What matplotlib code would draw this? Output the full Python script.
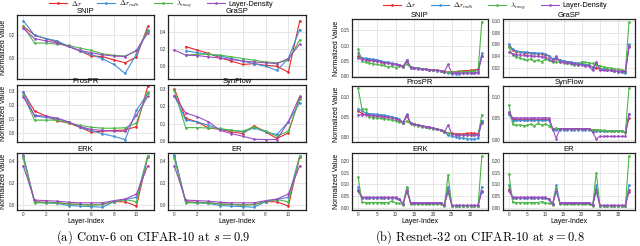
import numpy as np
import matplotlib
matplotlib.use("Agg")
import matplotlib.pyplot as plt
from matplotlib.lines import Line2D

plt.rcParams['font.family'] = ['Liberation Sans', 'DejaVu Sans']
plt.rcParams['mathtext.fontset'] = 'cm'

nan = np.nan
series_labels = [r'$\Delta r$', r'$\Delta r_{mdb}$', r'$\lambda_{mag}$', 'Layer-Density']
colors = ['#e8282b', '#3d8fd8', '#4cb848', '#9a4cc0']
methods = ['SNIP', 'GraSP', 'ProsPR', 'SynFlow', 'ERK', 'ER']

# ---------------- Conv-6 (12 layers) ----------------
conv_x = list(range(12))
conv = {
    'SNIP': [
        [0.28, 0.20, 0.17, 0.14, 0.10, 0.06, 0.015, 0.01, -0.02, -0.045, 0.005, 0.28],
        [0.33, 0.20, 0.17, 0.15, 0.10, 0.06, 0.03, -0.01, -0.06, -0.14, 0.03, 0.25],
        [0.28, 0.13, 0.13, 0.12, 0.11, 0.085, 0.065, 0.035, 0.02, 0.015, 0.06, 0.24],
        [0.26, 0.17, 0.15, 0.13, 0.10, 0.065, 0.045, 0.025, 0.015, 0.01, 0.065, 0.22],
    ],
    'GraSP': [
        [nan, 0.23, 0.19, 0.15, 0.10, 0.06, 0.02, 0.03, 0.01, 0.00, -0.07, 0.53],
        [nan, 0.18, 0.16, 0.14, 0.12, 0.09, 0.06, 0.03, 0.00, -0.05, 0.09, 0.43],
        [nan, 0.13, 0.14, 0.14, 0.13, 0.11, 0.09, 0.07, 0.05, 0.04, 0.07, 0.31],
        [0.19, 0.13, 0.125, 0.11, 0.095, 0.08, 0.06, 0.05, 0.04, 0.03, 0.09, 0.26],
    ],
    'ProsPR': [
        [0.29, 0.155, 0.12, 0.085, 0.07, 0.04, 0.005, 0.012, 0.017, 0.02, 0.045, 0.33],
        [0.29, 0.12, 0.11, 0.10, 0.077, 0.04, 0.017, -0.007, -0.025, -0.048, 0.16, 0.28],
        [0.27, 0.09, 0.09, 0.09, 0.072, 0.053, 0.04, 0.033, 0.033, 0.036, 0.07, 0.29],
        [0.255, 0.125, 0.118, 0.105, 0.077, 0.045, 0.024, 0.017, 0.012, 0.01, 0.125, 0.26],
    ],
    'SynFlow': [
        [0.30, 0.13, 0.11, 0.075, 0.068, 0.053, 0.043, 0.087, 0.053, 0.015, 0.047, 0.25],
        [0.26, 0.12, 0.11, 0.09, 0.068, 0.062, 0.053, 0.075, 0.053, 0.038, 0.11, 0.22],
        [0.29, 0.077, 0.077, 0.075, 0.072, 0.062, 0.057, 0.081, 0.058, 0.028, 0.057, 0.24],
        [0.26, 0.16, 0.14, 0.11, 0.062, 0.043, 0.028, 0.011, 0.009, 0.009, 0.11, 0.255],
    ],
    'ERK': [
        [0.45, 0.03, 0.025, 0.02, 0.01, 0.005, 0.0, 0.005, 0.03, 0.03, -0.01, 0.44],
        [0.46, 0.025, 0.02, 0.015, -0.005, -0.01, -0.015, -0.02, 0.03, 0.05, 0.07, 0.45],
        [0.43, 0.02, 0.02, 0.02, 0.01, 0.005, 0.0, 0.005, 0.03, 0.05, 0.03, 0.45],
        [0.36, 0.045, 0.04, 0.035, 0.025, 0.02, 0.02, 0.02, 0.04, 0.055, 0.10, 0.36],
    ],
    'ER': [
        [0.45, 0.03, 0.025, 0.02, 0.01, 0.005, 0.0, 0.005, 0.03, 0.03, -0.01, 0.44],
        [0.46, 0.025, 0.02, 0.015, -0.005, -0.01, -0.015, -0.02, 0.03, 0.05, 0.07, 0.45],
        [0.43, 0.02, 0.02, 0.02, 0.01, 0.005, 0.0, 0.005, 0.03, 0.05, 0.03, 0.45],
        [0.36, 0.045, 0.04, 0.035, 0.025, 0.02, 0.02, 0.02, 0.04, 0.055, 0.10, 0.36],
    ],
}
conv_yticks = {'SNIP': [0.0, 0.2], 'GraSP': [0.0, 0.2, 0.4], 'ProsPR': [0.0, 0.1, 0.2, 0.3],
               'SynFlow': [0.0, 0.1, 0.2, 0.3], 'ERK': [0.0, 0.2, 0.4], 'ER': [0.0, 0.2, 0.4]}
conv_ylim = {'SNIP': (-0.19, 0.38), 'GraSP': (-0.15, 0.60), 'ProsPR': (-0.065, 0.34),
             'SynFlow': (-0.005, 0.32), 'ERK': (-0.046, 0.477), 'ER': (-0.046, 0.477)}
conv_xticks = [0, 2, 4, 6, 8, 10]

# ---------------- ResNet-32 (34 layers) ----------------
res_x = list(range(34))
res = {
    'SNIP': [
        [0.065, 0.058, 0.056, 0.054, 0.052, 0.050, 0.047, 0.045, 0.043, 0.041, 0.039, 0.037, 0.033, 0.048, 0.030, 0.028, 0.026,
         0.024, 0.022, 0.021, 0.020, 0.019, 0.018, 0.016, 0.012, 0.014, 0.015, 0.016, 0.017, 0.018, 0.019, 0.020, 0.022, 0.065],
        [0.075, 0.060, 0.058, 0.057, 0.055, 0.054, 0.050, 0.047, 0.045, 0.042, 0.040, 0.036, 0.032, 0.052, 0.030, 0.028, 0.026,
         0.024, 0.022, 0.020, 0.019, 0.018, 0.017, 0.014, 0.010, 0.008, 0.008, 0.008, 0.009, 0.010, 0.010, 0.011, 0.012, 0.075],
        [0.088, 0.048, 0.045, 0.043, 0.040, 0.038, 0.036, 0.035, 0.030, 0.033, 0.028, 0.032, 0.030, 0.040, 0.027, 0.026, 0.025,
         0.024, 0.022, 0.020, 0.019, 0.018, 0.017, 0.013, 0.012, 0.013, 0.013, 0.014, 0.015, 0.015, 0.016, 0.017, 0.017, 0.178],
        [0.060, 0.055, 0.053, 0.052, 0.050, 0.048, 0.046, 0.044, 0.042, 0.040, 0.038, 0.035, 0.030, 0.052, 0.028, 0.026, 0.024,
         0.023, 0.022, 0.021, 0.020, 0.019, 0.018, 0.014, 0.038, 0.010, 0.010, 0.010, 0.010, 0.010, 0.010, 0.010, 0.010, 0.065],
    ],
    'GraSP': [
        [0.058, 0.050, 0.048, 0.047, 0.046, 0.046, 0.045, 0.045, 0.044, 0.044, 0.043, 0.040, 0.035, 0.036, 0.033, 0.032, 0.031,
         0.030, 0.029, 0.028, 0.027, 0.026, 0.025, 0.022, 0.020, 0.019, 0.018, 0.017, 0.016, 0.015, 0.014, 0.013, 0.013, 0.058],
        [0.061, 0.052, 0.049, 0.048, 0.047, 0.047, 0.046, 0.046, 0.045, 0.045, 0.044, 0.041, 0.036, 0.037, 0.033, 0.032, 0.031,
         0.030, 0.029, 0.028, 0.027, 0.026, 0.025, 0.021, 0.028, 0.019, 0.018, 0.017, 0.016, 0.015, 0.014, 0.013, 0.012, 0.060],
        [0.055, 0.042, 0.039, 0.037, 0.035, 0.033, 0.036, 0.032, 0.034, 0.031, 0.035, 0.033, 0.030, 0.031, 0.030, 0.029, 0.028,
         0.027, 0.026, 0.025, 0.031, 0.030, 0.029, 0.028, 0.025, 0.024, 0.022, 0.021, 0.020, 0.019, 0.018, 0.017, 0.015, 0.098],
        [0.047, 0.044, 0.043, 0.042, 0.042, 0.041, 0.041, 0.040, 0.040, 0.039, 0.038, 0.035, 0.032, 0.040, 0.031, 0.030, 0.029,
         0.028, 0.027, 0.026, 0.025, 0.024, 0.023, 0.016, 0.031, 0.016, 0.016, 0.016, 0.016, 0.015, 0.015, 0.015, 0.015, 0.055],
    ],
    'ProsPR': [
        [0.065, 0.058, 0.056, 0.055, 0.054, 0.053, 0.052, 0.051, 0.050, 0.048, 0.046, 0.043, 0.035, 0.052, 0.034, 0.032, 0.030,
         0.028, 0.026, 0.024, 0.022, 0.020, 0.018, 0.014, 0.010, 0.009, 0.008, 0.008, 0.008, 0.009, 0.010, 0.009, 0.008, 0.040],
        [0.070, 0.065, 0.060, 0.058, 0.057, 0.056, 0.055, 0.054, 0.052, 0.050, 0.048, 0.044, 0.036, 0.057, 0.034, 0.032, 0.030,
         0.028, 0.026, 0.024, 0.022, 0.020, 0.018, 0.012, 0.005, 0.002, 0.000, -0.002, -0.003, -0.004, -0.005, -0.005, -0.003, 0.040],
        [0.120, 0.070, 0.069, 0.050, 0.048, 0.047, 0.046, 0.045, 0.044, 0.042, 0.040, 0.038, 0.034, 0.040, 0.032, 0.030, 0.028,
         0.026, 0.024, 0.022, 0.021, 0.020, 0.018, 0.014, 0.010, 0.007, 0.006, 0.005, 0.005, 0.005, 0.005, 0.005, 0.006, 0.055],
        [0.055, 0.055, 0.055, 0.054, 0.053, 0.052, 0.051, 0.050, 0.049, 0.047, 0.045, 0.042, 0.036, 0.055, 0.034, 0.032, 0.030,
         0.028, 0.026, 0.024, 0.022, 0.020, 0.018, 0.012, 0.030, 0.008, 0.006, 0.005, 0.005, 0.005, 0.005, 0.005, 0.005, 0.036],
    ],
    'SynFlow': [
        [0.060, 0.047, 0.047, 0.047, 0.047, 0.047, 0.047, 0.047, 0.047, 0.047, 0.047, 0.047, 0.026, 0.026, 0.026, 0.026, 0.026,
         0.026, 0.026, 0.026, 0.026, 0.026, 0.026, 0.023, 0.021, 0.020, 0.020, 0.020, 0.020, 0.020, 0.020, 0.020, 0.018, 0.050],
        [0.060, 0.044, 0.045, 0.045, 0.045, 0.045, 0.045, 0.045, 0.045, 0.045, 0.045, 0.045, 0.024, 0.024, 0.024, 0.024, 0.024,
         0.024, 0.024, 0.024, 0.024, 0.024, 0.024, 0.021, 0.020, 0.020, 0.020, 0.020, 0.020, 0.020, 0.020, 0.020, 0.018, 0.060],
        [0.080, 0.036, 0.034, 0.035, 0.033, 0.034, 0.036, 0.033, 0.038, 0.034, 0.037, 0.033, 0.025, 0.027, 0.025, 0.025, 0.025,
         0.025, 0.025, 0.025, 0.025, 0.025, 0.025, 0.023, 0.024, 0.023, 0.022, 0.021, 0.021, 0.021, 0.020, 0.021, 0.018, 0.120],
        [0.065, 0.051, 0.051, 0.051, 0.051, 0.051, 0.051, 0.051, 0.051, 0.051, 0.051, 0.051, 0.026, 0.003, 0.026, 0.026, 0.026,
         0.026, 0.026, 0.026, 0.026, 0.026, 0.026, 0.018, 0.002, 0.008, 0.008, 0.008, 0.008, 0.008, 0.008, 0.008, 0.008, 0.060],
    ],
    'ERK': [
        [0.075, 0.042, 0.042, 0.042, 0.042, 0.042, 0.042, 0.042, 0.042, 0.042, 0.042, 0.035, 0.015, 0.075, 0.020, 0.020, 0.020,
         0.020, 0.020, 0.020, 0.020, 0.020, 0.020, 0.010, 0.075, 0.009, 0.009, 0.009, 0.009, 0.009, 0.009, 0.009, 0.009, 0.072],
        [0.090, 0.042, 0.042, 0.042, 0.042, 0.042, 0.042, 0.042, 0.042, 0.042, 0.042, 0.035, 0.015, 0.085, 0.020, 0.020, 0.020,
         0.020, 0.020, 0.020, 0.020, 0.020, 0.020, 0.010, 0.090, 0.009, 0.009, 0.009, 0.009, 0.009, 0.009, 0.009, 0.009, 0.090],
        [0.130, 0.023, 0.022, 0.022, 0.022, 0.022, 0.022, 0.022, 0.022, 0.028, 0.020, 0.018, 0.013, 0.090, 0.014, 0.014, 0.014,
         0.014, 0.014, 0.014, 0.014, 0.014, 0.014, 0.008, 0.140, 0.008, 0.008, 0.008, 0.008, 0.008, 0.008, 0.008, 0.008, 0.220],
        [0.070, 0.044, 0.044, 0.044, 0.044, 0.044, 0.044, 0.044, 0.044, 0.044, 0.044, 0.036, 0.016, 0.070, 0.021, 0.021, 0.021,
         0.021, 0.021, 0.021, 0.021, 0.021, 0.021, 0.011, 0.070, 0.010, 0.010, 0.010, 0.010, 0.010, 0.010, 0.010, 0.010, 0.068],
    ],
    'ER': [
        [0.078, 0.042, 0.042, 0.042, 0.042, 0.042, 0.042, 0.042, 0.042, 0.042, 0.042, 0.035, 0.015, 0.080, 0.020, 0.020, 0.020,
         0.020, 0.020, 0.020, 0.020, 0.020, 0.020, 0.010, 0.080, 0.009, 0.009, 0.009, 0.009, 0.009, 0.009, 0.009, 0.009, 0.075],
        [0.095, 0.042, 0.042, 0.042, 0.042, 0.042, 0.042, 0.042, 0.042, 0.042, 0.042, 0.035, 0.015, 0.095, 0.020, 0.020, 0.020,
         0.020, 0.020, 0.020, 0.020, 0.020, 0.020, 0.010, 0.095, 0.009, 0.009, 0.009, 0.009, 0.009, 0.009, 0.009, 0.009, 0.095],
        [0.145, 0.023, 0.022, 0.022, 0.022, 0.022, 0.022, 0.022, 0.022, 0.026, 0.020, 0.018, 0.013, 0.085, 0.014, 0.014, 0.014,
         0.014, 0.014, 0.014, 0.014, 0.014, 0.014, 0.008, 0.150, 0.008, 0.008, 0.008, 0.008, 0.008, 0.008, 0.008, 0.008, 0.220],
        [0.072, 0.044, 0.044, 0.044, 0.044, 0.044, 0.044, 0.044, 0.044, 0.044, 0.044, 0.036, 0.016, 0.070, 0.021, 0.021, 0.021,
         0.021, 0.021, 0.021, 0.021, 0.021, 0.021, 0.011, 0.070, 0.010, 0.010, 0.010, 0.010, 0.010, 0.010, 0.010, 0.010, 0.068],
    ],
}
res_yticks = {'SNIP': [0.00, 0.05, 0.10, 0.15], 'GraSP': [0.02, 0.04, 0.06, 0.08, 0.10],
              'ProsPR': [0.00, 0.05, 0.10], 'SynFlow': [0.00, 0.05, 0.10],
              'ERK': [0.00, 0.05, 0.10, 0.15, 0.20], 'ER': [0.00, 0.05, 0.10, 0.15, 0.20]}
res_ylim = {'SNIP': (-0.003, 0.187), 'GraSP': (0.005, 0.103), 'ProsPR': (-0.012, 0.126),
            'SynFlow': (-0.005, 0.125), 'ERK': (-0.01, 0.234), 'ER': (-0.01, 0.234)}
res_xticks = [0, 5, 10, 15, 20, 25, 30]

W, H = 640, 246
fig = plt.figure(figsize=(W / 100, H / 100), dpi=100)


def add_ax(l, t, r, b):
    return fig.add_axes([l / W, 1 - b / H, (r - l) / W, (b - t) / H])


def style(ax):
    ax.set_facecolor('white')
    ax.grid(True, color='#dcdcdc', linewidth=0.5)
    ax.set_axisbelow(True)
    for s in ax.spines.values():
        s.set_color('#222222')
        s.set_linewidth(0.9)
    ax.tick_params(labelsize=3.3, length=0, pad=1.5, colors='#333333')


def draw_panel(data, xs, yticks, ylims, xticks, cols, rows, fmt, ylab_x):
    for i, m in enumerate(methods):
        r, c = divmod(i, 2)
        l, rr = cols[c]
        t, b = rows[r]
        ax = add_ax(l, t, rr, b)
        style(ax)
        for k in range(4):
            ax.plot(xs, data[m][k], color=colors[k], lw=0.8, marker='o', ms=0.9)
        ax.set_title(m, fontsize=5.5, pad=0.6)
        ax.set_ylim(*ylims[m])
        ax.set_yticks(yticks[m])
        ax.set_yticklabels([fmt.format(v) for v in yticks[m]])
        ax.set_xticks(xticks)
        if r == 2:
            ax.set_xlabel('Layer-Index', fontsize=5, labelpad=0.5)
        else:
            ax.set_xticklabels([])
        if c == 0:
            ax.set_ylabel('Normalized Value', fontsize=5)
            ax.yaxis.set_label_coords((ylab_x - l) / (rr - l), 0.5)


draw_panel(conv, conv_x, conv_yticks, conv_ylim, conv_xticks,
           cols=[(17, 154), (168, 306)], rows=[(15, 79), (85, 142), (153, 210)], fmt='{:.1f}', ylab_x=7.5)
draw_panel(res, res_x, res_yticks, res_ylim, res_xticks,
           cols=[(352, 488), (503, 635)], rows=[(19, 77), (86, 142), (153, 210)], fmt='{:.2f}', ylab_x=340)

handles = [Line2D([], [], color=colors[k], lw=0.8, marker='o', ms=0.9) for k in range(4)]
common = dict(loc='center', ncol=4, frameon=False, fontsize=5.2, handlelength=2.5, columnspacing=2.1,
              handletextpad=0.5, borderaxespad=0, borderpad=0)
fig.legend(handles, series_labels, bbox_to_anchor=(161 / W, 1 - 4.3 / H), **common)
fig.legend(handles, series_labels, bbox_to_anchor=(495 / W, 1 - 5.8 / H), **common)

fig.text(153 / W, 1 - 237 / H, r'(a) Conv-6 on CIFAR-10 at $s = 0.9$', ha='center', va='center',
         fontsize=9, family='cmr10')
fig.text(480 / W, 1 - 237 / H, r'(b) Resnet-32 on CIFAR-10 at $s = 0.8$', ha='center', va='center',
         fontsize=9, family='cmr10')

fig.savefig('out.png', dpi=100, facecolor='white')
